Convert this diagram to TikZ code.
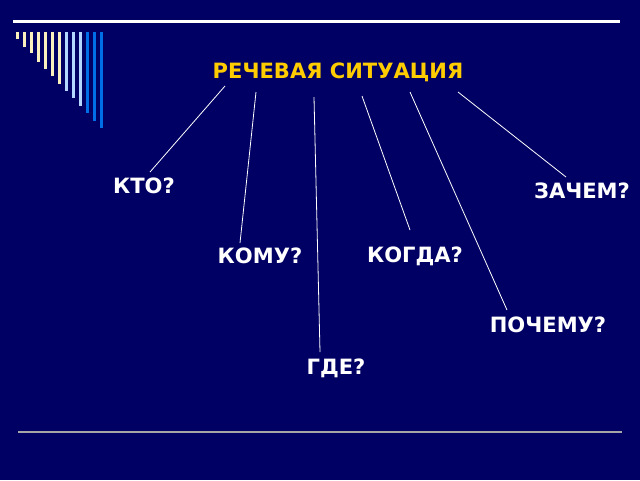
\documentclass[tikz,border=0pt]{standalone}
\usepackage{fontspec}
\setmainfont{DejaVu Sans}
\definecolor{bg}{RGB}{0,0,100}
\definecolor{cream}{RGB}{250,240,190}
\definecolor{lblue}{RGB}{180,215,255}
\definecolor{mblue}{RGB}{0,110,230}
\definecolor{gold}{RGB}{255,204,0}
\begin{document}
\begin{tikzpicture}[x=0.75pt,y=-0.75pt,
  lab/.style={text=white,font=\bfseries\fontsize{15.8}{18}\selectfont,inner sep=1pt},
  con/.style={draw=white,line width=0.6pt}]
\fill[bg] (0,0) rectangle (640,480);
\useasboundingbox (0,0) rectangle (640,480);
\fill[white] (13,19.5) rectangle (620,23);
\foreach \i/\b in {0/39,1/47,2/53,3/62,4/69,5/76,6/84}
  \fill[cream] ({17+7*\i-1.5},32) rectangle ({17+7*\i+1.5},\b);
\foreach \i/\b in {7/91,8/98,9/106}
  \fill[lblue] ({17+7*\i-1.5},32) rectangle ({17+7*\i+1.5},\b);
\foreach \i/\b in {10/113,11/121,12/128}
  \fill[mblue] ({17+7*\i-1.5},32) rectangle ({17+7*\i+1.5},\b);
\draw[gray!70!white,line width=0.8pt] (18,432) -- (622,432);
\node[lab,text=gold] (t) at (338,72) {РЕЧЕВАЯ СИТУАЦИЯ};
\node[lab] (kto) at (144,186) {КТО?};
\node[lab] (zachem) at (582,191) {ЗАЧЕМ?};
\node[lab] (komu) at (260,256) {КОМУ?};
\node[lab] (kogda) at (415,256) {КОГДА?};
\node[lab] (pochemu) at (548,325) {ПОЧЕМУ?};
\node[lab] (gde) at (336,368) {ГДЕ?};
\coordinate (a1) at (225,86); \coordinate (b1) at (150,172);
\coordinate (a2) at (256,92); \coordinate (b2) at (240,243);
\coordinate (a3) at (314,97); \coordinate (b3) at (320,352);
\coordinate (a4) at (362,96); \coordinate (b4) at (410,230);
\coordinate (a5) at (410,92); \coordinate (b5) at (507,310);
\coordinate (a6) at (458,92); \coordinate (b6) at (566,177);
\foreach \k in {1,...,6} \draw[con] (a\k) -- (b\k);
\end{tikzpicture}
\end{document}
